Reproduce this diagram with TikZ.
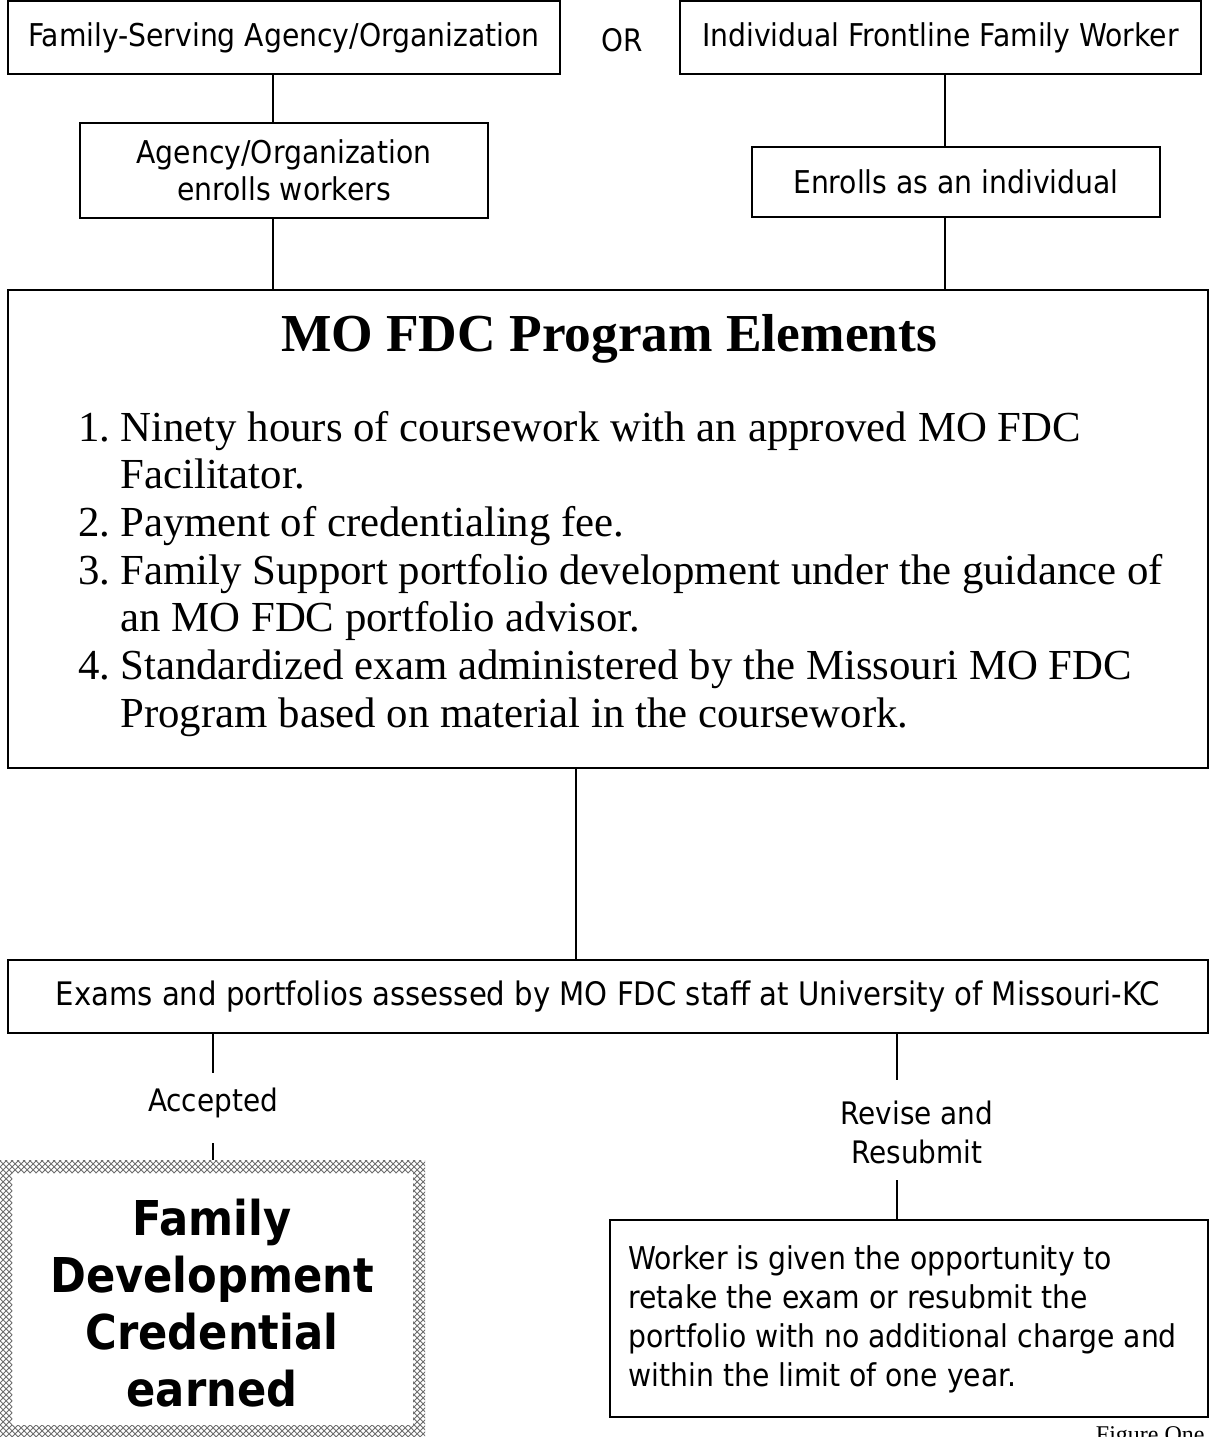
\documentclass[tikz,border=0pt]{standalone}
\usepackage{fontspec}
\setmainfont{Liberation Serif}
\newfontfamily\tah{DejaVu Sans Condensed}
\usetikzlibrary{patterns}
\begin{document}
\begin{tikzpicture}[x=0.5pt,y=-0.5pt,
  box/.style={draw,line width=1pt,inner sep=0pt,align=center,font=\tah\fontsize{15.7}{18.5}\selectfont},
  conn/.style={line width=0.7pt},
  lbl/.style={inner sep=0pt,align=center,font=\tah\fontsize{15.5}{19.5}\selectfont}]
\useasboundingbox (0,0) rectangle (1210,1437);
% top boxes
\node[box,minimum width=276pt,minimum height=36.5pt] (A) at (284,37.5) {Family-Serving Agency/Organization};
\node[lbl] (or) at (622,40) {OR};
\node[box,minimum width=260.5pt,minimum height=36.5pt] (B) at (940.5,37.5) {Individual Frontline Family Worker};
\node[box,minimum width=204pt,minimum height=47.5pt] (C) at (284,170.5) {Agency/Organization\\enrolls workers};
\node[box,minimum width=204pt,minimum height=35pt] (D) at (956,182) {Enrolls as an individual};
% main box
\node[draw,line width=1pt,inner sep=0pt,minimum width=600pt,minimum height=239pt] (M) at (608,529) {};
\node[anchor=base,inner sep=0pt,font=\fontsize{26.7}{30}\selectfont\bfseries] (title) at (609,351) {MO FDC Program Elements};
\node[anchor=base west,inner sep=0pt,font=\fontsize{21.4}{23.85}\selectfont] (list) at (78,441)
 {\begin{tabular}[t]{@{}r@{\hspace{5pt}}l@{}}
 1. & Ninety hours of coursework with an approved MO FDC\\
    & Facilitator.\\
 2. & Payment of credentialing fee.\\
 3. & Family Support portfolio development under the guidance of\\
    & an MO FDC portfolio advisor.\\
 4. & Standardized exam administered by the Missouri MO FDC\\
    & Program based on material in the coursework.
 \end{tabular}};
% assessment box
\node[box,minimum width=600pt,minimum height=36.5pt,font=\tah\fontsize{16.2}{18.5}\selectfont] (E) at (608,996.5) {Exams and portfolios assessed by MO FDC staff at University of Missouri-KC};
\node[lbl] (acc) at (213,1103) {Accepted};
\node[lbl] (rev) at (917,1132) {Revise and\\Resubmit};
% credential box
\fill[pattern=crosshatch,pattern color=gray!85!black,even odd rule] (0,1160) rectangle (425,1437) (12,1173) rectangle (413,1425);
\node[inner sep=0pt,minimum width=212.5pt,minimum height=138.5pt] (F) at (212.5,1298.5) {};
\node[inner sep=0pt,align=center,font=\tah\fontsize{24}{28.5}\selectfont\bfseries] (Ft) at (212,1303) {Family\\Development\\Credential\\earned};
% retake box
\node[box,minimum width=299pt,minimum height=98.5pt] (G) at (909,1318.5) {};
\node[anchor=north west,inner sep=0pt,align=left,font=\tah\fontsize{15.7}{19.5}\selectfont] (Gt) at (628,1245) {Worker is given the opportunity to\\retake the exam or resubmit the\\portfolio with no additional charge and\\within the limit of one year.};
\node[anchor=base east,inner sep=0pt,font=\fontsize{12}{14}\selectfont] (fig) at (1205,1442) {Figure One};
% connectors
\draw[conn] (273,0 |- A.south) -- (273,0 |- C.north);
\draw[conn] (945,0 |- B.south) -- (945,0 |- D.north);
\draw[conn] (273,0 |- C.south) -- (273,0 |- M.north);
\draw[conn] (945,0 |- D.south) -- (945,0 |- M.north);
\draw[conn] (576,0 |- M.south) -- (576,0 |- E.north);
\draw[conn] (213,0 |- E.south) -- (213,1073);
\draw[conn] (213,1143) -- (213,0 |- F.north);
\draw[conn] (897,0 |- E.south) -- (897,1080);
\draw[conn] (897,1180) -- (897,0 |- G.north);
\end{tikzpicture}
\end{document}
